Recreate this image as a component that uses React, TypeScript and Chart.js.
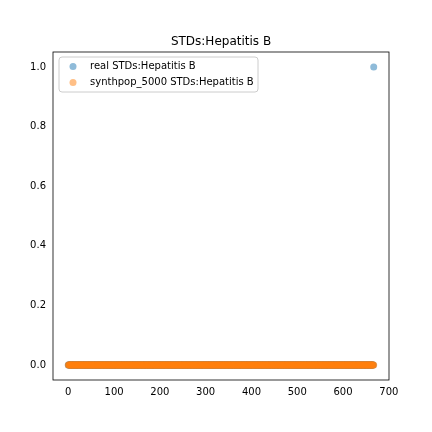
import React, { useEffect, useRef } from "react";
import { Chart, registerables } from "chart.js";

Chart.register(...registerables);

// number of records in each series (x index 0..n-1)
const recordCount = 668;
// indices where the real series is 1 (all others are 0)
const realOneIndices = [667];
// indices where synthpop series is 1 (none)
const synthOneIndices: number[] = [];

const chartTitle = "STDs:Hepatitis B";
const seriesLabels = ["real STDs:Hepatitis B", "synthpop_5000 STDs:Hepatitis B"];
const seriesColors = ["rgba(31,119,180,0.5)", "rgba(255,127,14,0.5)"];
const xTicks = [0, 100, 200, 300, 400, 500, 600, 700];
const yTicks = [0, 0.2, 0.4, 0.6, 0.8, 1.0];

const buildPoints = (ones: number[]) => {
  const pts: { x: number; y: number }[] = [];
  for (let i = 0; i < recordCount; i++) pts.push({ x: i, y: ones.includes(i) ? 1 : 0 });
  return pts;
};

const FONT = "'DejaVu Sans', sans-serif";

const framePlugin = {
  id: "frame",
  afterDraw(chart: any) {
    const { ctx, chartArea: a } = chart;
    ctx.save();
    ctx.strokeStyle = "#000";
    ctx.lineWidth = 0.8;
    ctx.strokeRect(a.left, a.top, a.right - a.left, a.bottom - a.top);
    // title centred over the axes
    ctx.fillStyle = "#000";
    ctx.font = `12px ${FONT}`;
    ctx.textAlign = "center";
    ctx.textBaseline = "middle";
    ctx.fillText(chartTitle, (a.left + a.right) / 2, a.top - 10);
    ctx.textAlign = "left";
    // legend
    const x0 = a.left + 6, y0 = a.top + 5, w = 199, h = 35;
    ctx.fillStyle = "rgba(255,255,255,0.8)";
    ctx.strokeStyle = "#ccc";
    ctx.lineWidth = 1;
    ctx.beginPath();
    ctx.roundRect(x0, y0, w, h, 3);
    ctx.fill();
    ctx.stroke();
    ctx.font = `10px ${FONT}`;
    seriesLabels.forEach((lab, i) => {
      const cy = y0 + 9.5 + i * 16;
      ctx.fillStyle = seriesColors[i];
      ctx.beginPath();
      ctx.arc(x0 + 14, cy, 3.5, 0, Math.PI * 2);
      ctx.fill();
      ctx.fillStyle = "#000";
      ctx.fillText(lab, x0 + 31, cy);
    });
    ctx.restore();
  },
};

const App: React.FC = () => {
  const ref = useRef<HTMLCanvasElement>(null);
  useEffect(() => {
    if (!ref.current) return;
    const chart = new Chart(ref.current, {
      type: "scatter",
      data: {
        datasets: [
          { label: seriesLabels[0], data: buildPoints(realOneIndices), backgroundColor: seriesColors[0], borderWidth: 0, pointRadius: 3.5, order: 1 },
          { label: seriesLabels[1], data: buildPoints(synthOneIndices), backgroundColor: seriesColors[1], borderWidth: 0, pointRadius: 3.5, order: 0 },
        ],
      },
      options: {
        animation: false,
        responsive: false,
        layout: { padding: { right: 43, left: 0, bottom: 0, top: 52 } },
        plugins: {
          legend: { display: false },
          tooltip: { enabled: false },
          title: { display: false },
        },
        scales: {
          x: {
            type: "linear",
            min: -33.4,
            max: 700.4,
            grid: { display: false, drawTicks: true, tickLength: 4, tickColor: "#000" } as any,
            border: { display: false },
            afterBuildTicks: (s: any) => { s.ticks = xTicks.map((v) => ({ value: v })); },
            afterFit: (s: any) => { s.height = 52; },
            ticks: { color: "#000", font: { family: FONT, size: 10 }, maxRotation: 0, padding: 2 },
          },
          y: {
            type: "linear",
            min: -0.05,
            max: 1.05,
            grid: { display: false, drawTicks: true, tickLength: 4, tickColor: "#000" } as any,
            border: { display: false },
            afterBuildTicks: (s: any) => { s.ticks = yTicks.map((v) => ({ value: v })); },
            afterFit: (s: any) => { s.width = 53; },
            ticks: { color: "#000", font: { family: FONT, size: 10 }, padding: 3, callback: (v: any) => Number(v).toFixed(1) },
          },
        },
      },
      plugins: [framePlugin],
    });
    return () => chart.destroy();
  }, []);
  return (
    <div style={{ position: "fixed", left: 0, top: 0, width: 432, height: 432, background: "#fff" }}>
      <canvas ref={ref} width={432} height={432} style={{ width: 432, height: 432 }} />
    </div>
  );
};

export default App;
